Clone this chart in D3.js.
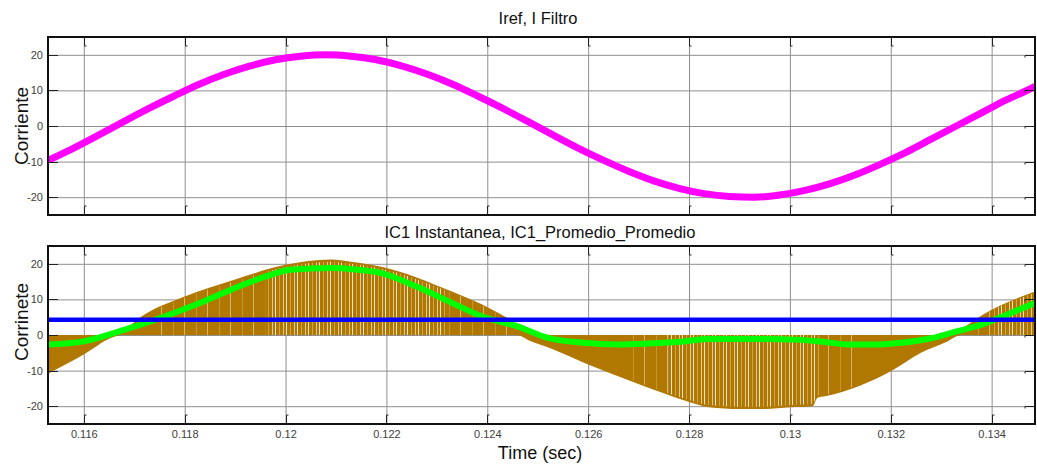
<!DOCTYPE html>
<html><head><meta charset="utf-8">
<script src="https://cdn.jsdelivr.net/npm/d3@7"></script>
<style>
body{margin:0;background:#fff;}
text{font-family:"Liberation Sans",Arial,Helvetica,sans-serif;}
</style>
</head><body>
<svg id="chart" width="1037" height="466"></svg>
<script>
// ---------- data ----------
const xTicks = [0.116,0.118,0.12,0.122,0.124,0.126,0.128,0.13,0.132,0.134];
const xTickLabels = ["0.116","0.118","0.12","0.122","0.124","0.126","0.128","0.13","0.132","0.134"];
const yTicks = [-20,-10,0,10,20];
const yTickLabels = ["-20","-10","0","10","20"];

// top panel: Iref / I Filtro
const timeRef = [0.1153,0.1158,0.1163,0.1168,0.1173,0.1178,0.1183,0.1188,0.1193,0.1198,
  0.1203,0.1208,0.1213,0.1218,0.1223,0.1228,0.1233,0.1238,0.1243,0.1248,
  0.1253,0.1258,0.1263,0.1268,0.1273,0.1278,0.1283,0.1288,0.1293,0.1298,
  0.1303,0.1308,0.1313,0.1318,0.1323,0.1328,0.1333,0.1338,0.1343,0.1348,0.13486];
const iFiltro = [-9.6,-6.2,-2.5,1.3,5.0,8.5,11.8,14.6,16.9,18.6,
  19.6,20.0,19.6,18.6,16.9,14.6,11.8,8.5,5.0,1.3,
  -2.5,-6.2,-9.6,-12.7,-15.4,-17.5,-19.0,-19.8,-20.0,-19.4,
  -18.1,-16.2,-13.7,-10.7,-7.4,-3.7,0.0,3.7,7.4,10.7,11.2];

// bottom panel: IC1 instantaneous (switched) envelope
const timeInst = [0.11529,0.1160,0.11655,0.11676,0.1171,0.1180,0.1190,0.1200,0.1209,0.1213,
  0.1219,0.1233,0.1241,0.12458,0.12484,0.1253,0.1260,0.1268,0.1274,0.1280,
  0.1284,0.1290,0.1295,0.1300,0.13045,0.13055,0.1307,0.1314,0.1320,0.1326,
  0.1331,0.1334,0.1338,0.13486];
const ic1Upper = [-8.5,-3.5,0.0,1.0,4.8,10.8,15.6,19.7,21.2,20.6,
  19.2,12.2,7.1,3.2,0.6,-2.0,-6.5,-10.5,-13.5,-16.5,
  -18.0,-18.5,-18.5,-18.0,-17.0,-16.0,-15.0,-12.0,-8.0,-3.5,
  0.0,1.8,5.5,12.2];
const ic1Lower = [-10.9,-5.5,-0.8,0.0,2.5,8.5,13.0,17.0,19.0,18.5,
  17.0,10.0,5.0,0.0,-1.6,-4.0,-8.3,-12.7,-15.9,-18.8,
  -20.3,-20.8,-20.8,-20.3,-20.0,-17.6,-17.2,-14.2,-10.2,-5.0,
  -2.0,0.0,3.0,9.5];
// time spans where the switching off-intervals show as white slivers
const gapDenseStart = [0.1196,0.1276,0.1340];
const gapDenseEnd   = [0.1232,0.13058,0.1349];
const gapSparseStart = [0.1175,0.1232,0.1268,0.13058,0.1336];
const gapSparseEnd   = [0.1196,0.1245,0.1276,0.1313,0.1340];

// bottom panel: IC1 promedio (green)
const timeAvg = [0.11529,0.1160,0.1167,0.1176,0.1183,0.1190,0.1196,0.1201,0.1209,0.1213,
  0.1219,0.1226,0.1233,0.1239,0.1246,0.1252,0.1259,0.1266,0.1272,0.1279,
  0.1284,0.1296,0.1301,0.1306,0.1312,0.1317,0.1322,0.1328,0.1333,0.1338,
  0.1343,0.13486];
const ic1Promedio = [-2.7,-1.8,1.0,5.2,9.0,13.2,16.4,18.3,18.8,18.5,
  17.4,13.6,9.0,5.2,2.4,-0.8,-2.2,-2.7,-2.4,-1.8,
  -1.1,-1.1,-1.3,-1.8,-2.7,-2.7,-2.2,-0.9,1.0,2.9,
  5.7,9.0];

// bottom panel: IC1 promedio promedio (blue)
const timeAvgAvg = [0.11529,0.13486];
const ic1PromedioPromedio = [4.3,4.3];

const titleTop = "Iref, I Filtro";
const titleBottom = "IC1 Instantanea, IC1_Promedio_Promedio";
const yLabelTop = "Corriente";
const yLabelBottom = "Corrinete";
const xLabel = "Time (sec)";

// ---------- layout ----------
const svg = d3.select("#chart");
const L = 48, R = 1035;
const panels = [{top:37,bottom:215},{top:246,bottom:424}];

const x = d3.scaleLinear().domain([0.11529,0.13486]).range([L,R]);
const yScales = panels.map(p => d3.scaleLinear().domain([-25,25]).range([p.bottom,p.top]));

const defs = svg.append("defs");
function makePattern(id, w, lines){
  const p = defs.append("pattern").attr("id",id).attr("patternUnits","userSpaceOnUse")
    .attr("width",w).attr("height",10);
  lines.forEach(([px,op,col])=>p.append("rect").attr("x",px).attr("y",0).attr("width",1)
    .attr("height",10).attr("fill",col).attr("opacity",op));
}
makePattern("gapsDense", 11, [[0,0.8,"#ffffff"],[4,0.45,"#f0dcb0"],[8,0.6,"#ffffff"]]);
makePattern("gapsSparse", 23, [[0,0.45,"#ffffff"],[12,0.3,"#f0dcb0"]]);

function drawFrameBase(i){
  const p = panels[i], y = yScales[i];
  const g = svg.append("g");
  g.append("g").attr("transform",`translate(0,${p.bottom})`)
    .call(d3.axisBottom(x).tickValues(xTicks).tickSize(-(p.bottom-p.top)).tickFormat(""))
    .call(s=>{s.select(".domain").remove(); s.selectAll("line").attr("stroke","#8e8e8e").attr("stroke-width",1);});
  g.append("g").attr("transform",`translate(${L},0)`)
    .call(d3.axisLeft(y).tickValues(yTicks).tickSize(-(R-L)).tickFormat(""))
    .call(s=>{s.select(".domain").remove(); s.selectAll("line").attr("stroke","#8e8e8e").attr("stroke-width",1);});
  return g;
}

function drawFrameTop(i, showXLabels){
  const p = panels[i], y = yScales[i];
  const g = svg.append("g");
  g.append("g").attr("transform",`translate(${L},0)`)
    .call(d3.axisLeft(y).tickValues(yTicks).tickSize(0).tickPadding(5)
      .tickFormat((d,k)=>yTickLabels[k]))
    .call(s=>{s.select(".domain").remove();
      s.selectAll("text").attr("font-size",11).attr("fill","#404040")
        .attr("font-family","'Liberation Sans',Arial,sans-serif");});
  const tk = g.append("g").attr("stroke","#222").attr("stroke-width",1).attr("fill","none");
  yTicks.forEach(v=>{
    const yy = Math.round(y(v))+0.5;
    tk.append("path").attr("d",`M${L},${yy}H${L+10}`);
    tk.append("path").attr("d",`M${R},${yy}H${R-10}V${yy+2}`);
  });
  xTicks.forEach(v=>{
    const xx = Math.round(x(v))+0.5;
    tk.append("path").attr("d",`M${xx+2},${p.top+9}H${xx}V${p.top}`);
    tk.append("path").attr("d",`M${xx+2},${p.bottom-9}H${xx}V${p.bottom}`);
  });
  g.append("rect").attr("x",L).attr("y",p.top).attr("width",R-L).attr("height",p.bottom-p.top)
    .attr("fill","none").attr("stroke","#111").attr("stroke-width",2);
  if(showXLabels){
    g.append("g").attr("transform",`translate(0,${p.bottom})`)
      .call(d3.axisBottom(x).tickValues(xTicks).tickSize(0).tickPadding(6)
        .tickFormat((d,k)=>xTickLabels[k]))
      .call(s=>{s.select(".domain").remove();
        s.selectAll("text").attr("font-size",11).attr("fill","#404040")
          .attr("font-family","'Liberation Sans',Arial,sans-serif");});
  }
}

panels.forEach((p,i)=>{
  defs.append("clipPath").attr("id","clip"+i).append("rect")
    .attr("x",L).attr("y",p.top).attr("width",R-L).attr("height",p.bottom-p.top);
});
function makeSpanClip(id, starts, ends){
  const c = defs.append("clipPath").attr("id",id);
  starts.forEach((s,k)=>{
    c.append("rect").attr("x",x(s)).attr("y",0)
      .attr("width",Math.max(0,Math.min(x(ends[k]),R)-x(s))).attr("height",466);
  });
}
makeSpanClip("denseclip", gapDenseStart, gapDenseEnd);
makeSpanClip("sparseclip", gapSparseStart, gapSparseEnd);

// ---------- top panel ----------
drawFrameBase(0);
const y0 = yScales[0];
const refData = timeRef.map((t,k)=>({t, v:iFiltro[k]}));
svg.append("path").datum(refData).attr("clip-path","url(#clip0)")
  .attr("d", d3.line().x(d=>x(d.t)).y(d=>y0(d.v)).curve(d3.curveMonotoneX))
  .attr("fill","none").attr("stroke","#ff00ff").attr("stroke-width",7);
drawFrameTop(0,false);

// ---------- bottom panel ----------
drawFrameBase(1);
const y1 = yScales[1];
const instData = timeInst.map((t,k)=>({t, hi:ic1Upper[k], lo:ic1Lower[k]}));
const instArea = d3.area().x(d=>x(d.t))
  .y0(d=>y1(Math.min(0,d.lo))).y1(d=>y1(Math.max(0,d.hi))).curve(d3.curveMonotoneX);
svg.append("path").datum(instData).attr("clip-path","url(#clip1)")
  .attr("d", instArea).attr("fill","#b07800").attr("stroke","none");
const innerArea = d3.area().x(d=>x(d.t))
  .y0(d=>y1(Math.min(0,d.lo)*0.97)).y1(d=>y1(Math.max(0,d.hi)*0.97)).curve(d3.curveMonotoneX);
[["denseclip","gapsDense"],["sparseclip","gapsSparse"]].forEach(([c,p])=>{
  svg.append("g").attr("clip-path",`url(#${c})`)
    .append("path").datum(instData).attr("clip-path","url(#clip1)")
    .attr("d", innerArea).attr("fill",`url(#${p})`).attr("stroke","none");
});
const avgData = timeAvg.map((t,k)=>({t, v:ic1Promedio[k]}));
svg.append("path").datum(avgData).attr("clip-path","url(#clip1)")
  .attr("d", d3.line().x(d=>x(d.t)).y(d=>y1(d.v)).curve(d3.curveMonotoneX))
  .attr("fill","none").attr("stroke","#00ff00").attr("stroke-width",6);
const aaData = timeAvgAvg.map((t,k)=>({t, v:ic1PromedioPromedio[k]}));
svg.append("path").datum(aaData).attr("clip-path","url(#clip1)")
  .attr("d", d3.line().x(d=>x(d.t)).y(d=>y1(d.v)))
  .attr("fill","none").attr("stroke","#0000ff").attr("stroke-width",4.5);
drawFrameTop(1,true);

// ---------- texts ----------
svg.append("text").attr("x",538).attr("y",24).attr("text-anchor","middle")
  .attr("font-size",16.5).attr("fill","#111").text(titleTop);
svg.append("text").attr("x",540).attr("y",238).attr("text-anchor","middle")
  .attr("font-size",16.5).attr("fill","#111").text(titleBottom);
svg.append("text").attr("transform","translate(28,126) rotate(-90)").attr("text-anchor","middle")
  .attr("font-size",19).attr("fill","#111").text(yLabelTop);
svg.append("text").attr("transform","translate(28,322) rotate(-90)").attr("text-anchor","middle")
  .attr("font-size",19).attr("fill","#111").text(yLabelBottom);
svg.append("text").attr("x",540).attr("y",459).attr("text-anchor","middle")
  .attr("font-size",18).attr("fill","#111").text(xLabel);
</script>
</body></html>
